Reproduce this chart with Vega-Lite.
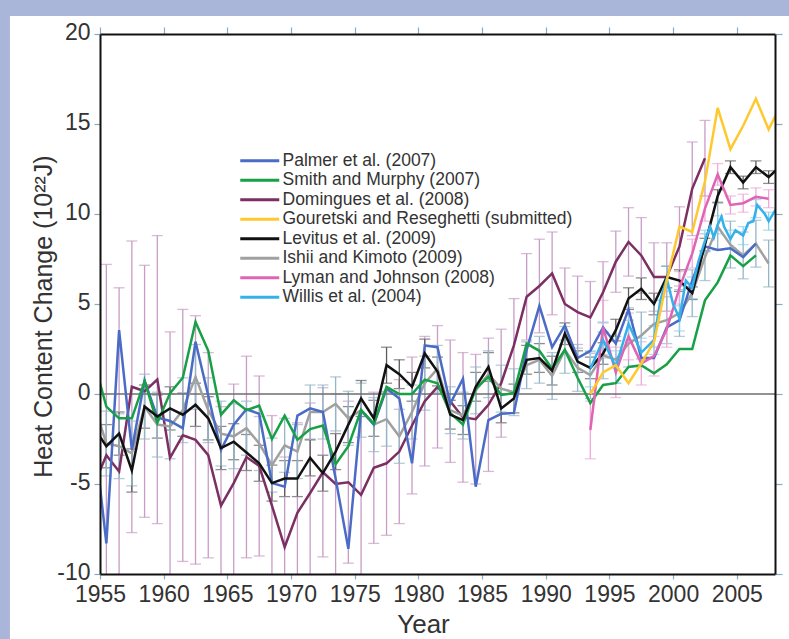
{
  "$schema": "https://vega.github.io/schema/vega-lite/v6.json",
  "width": 675,
  "height": 540,
  "autosize": {"type": "none"},
  "padding": {"left": 100, "top": 34, "right": 14, "bottom": 65},
  "background": "#aab5da",
  "config": {
    "view": {"stroke": null},
    "axis": {"labelFont": "Liberation Sans", "titleFont": "Liberation Sans", "grid": false}
  },
  "datasets": {
    "lines": [
      {"s":"D","t":1954.5,"v":-5.1},{"s":"D","t":1955.5,"v":-3.4},{"s":"D","t":1956.5,"v":-4.3},{"s":"D","t":1957.5,"v":0.4},{"s":"D","t":1958.5,"v":0.15},{"s":"D","t":1959.5,"v":0.8},{"s":"D","t":1960.5,"v":-3.55},{"s":"D","t":1961.5,"v":-2.3},{"s":"D","t":1962.5,"v":-2.55},{"s":"D","t":1963.5,"v":-3.4},{"s":"D","t":1964.5,"v":-6.2},{"s":"D","t":1965.5,"v":-4.95},{"s":"D","t":1966.5,"v":-3.5},{"s":"D","t":1967.5,"v":-4.0},{"s":"D","t":1968.5,"v":-6.2},{"s":"D","t":1969.5,"v":-8.5},{"s":"D","t":1970.5,"v":-6.6},{"s":"D","t":1971.5,"v":-5.5},{"s":"D","t":1972.5,"v":-4.35},{"s":"D","t":1973.5,"v":-5.0},{"s":"D","t":1974.5,"v":-4.9},{"s":"D","t":1975.5,"v":-5.6},{"s":"D","t":1976.5,"v":-4.1},{"s":"D","t":1977.5,"v":-3.85},{"s":"D","t":1978.5,"v":-3.2},{"s":"D","t":1979.5,"v":-1.75},{"s":"D","t":1980.5,"v":-0.4},{"s":"D","t":1981.5,"v":0.4},{"s":"D","t":1982.5,"v":-0.4},{"s":"D","t":1983.5,"v":-1.3},{"s":"D","t":1984.5,"v":-1.4},{"s":"D","t":1985.5,"v":-0.6},{"s":"D","t":1986.5,"v":0.6},{"s":"D","t":1987.5,"v":2.7},{"s":"D","t":1988.5,"v":5.4},{"s":"D","t":1989.5,"v":6.0},{"s":"D","t":1990.5,"v":6.7},{"s":"D","t":1991.5,"v":5.0},{"s":"D","t":1992.5,"v":4.55},{"s":"D","t":1993.5,"v":4.25},{"s":"D","t":1994.5,"v":5.65},{"s":"D","t":1995.5,"v":7.35},{"s":"D","t":1996.5,"v":8.45},{"s":"D","t":1997.5,"v":7.7},{"s":"D","t":1998.5,"v":6.5},{"s":"D","t":1999.5,"v":6.5},{"s":"D","t":2000.5,"v":8.2},{"s":"D","t":2001.5,"v":11.4},{"s":"D","t":2002.5,"v":13.1},
      {"s":"I","t":1954.5,"v":-0.5},{"s":"I","t":1955.5,"v":-2.75},{"s":"I","t":1956.5,"v":-2.9},{"s":"I","t":1957.5,"v":-3.3},{"s":"I","t":1958.5,"v":-0.7},{"s":"I","t":1959.5,"v":-1.7},{"s":"I","t":1960.5,"v":-1.8},{"s":"I","t":1961.5,"v":-0.9},{"s":"I","t":1962.5,"v":0.95},{"s":"I","t":1963.5,"v":-0.9},{"s":"I","t":1964.5,"v":-2.2},{"s":"I","t":1965.5,"v":-2.35},{"s":"I","t":1966.5,"v":-1.9},{"s":"I","t":1967.5,"v":-2.75},{"s":"I","t":1968.5,"v":-3.95},{"s":"I","t":1969.5,"v":-2.85},{"s":"I","t":1970.5,"v":-3.2},{"s":"I","t":1971.5,"v":-1.0},{"s":"I","t":1972.5,"v":-1.0},{"s":"I","t":1973.5,"v":-0.55},{"s":"I","t":1974.5,"v":-1.35},{"s":"I","t":1975.5,"v":-0.9},{"s":"I","t":1976.5,"v":-1.7},{"s":"I","t":1977.5,"v":-1.4},{"s":"I","t":1978.5,"v":-2.35},{"s":"I","t":1979.5,"v":-1.0},{"s":"I","t":1980.5,"v":0.6},{"s":"I","t":1981.5,"v":1.4},{"s":"I","t":1982.5,"v":-0.9},{"s":"I","t":1983.5,"v":-1.2},{"s":"I","t":1984.5,"v":0.2},{"s":"I","t":1985.5,"v":1.1},{"s":"I","t":1986.5,"v":0.3},{"s":"I","t":1987.5,"v":0.1},{"s":"I","t":1988.5,"v":1.6},{"s":"I","t":1989.5,"v":1.9},{"s":"I","t":1990.5,"v":1.0},{"s":"I","t":1991.5,"v":2.45},{"s":"I","t":1992.5,"v":1.45},{"s":"I","t":1993.5,"v":1.05},{"s":"I","t":1994.5,"v":2.15},{"s":"I","t":1995.5,"v":1.9},{"s":"I","t":1996.5,"v":2.8},{"s":"I","t":1997.5,"v":3.25},{"s":"I","t":1998.5,"v":3.9},{"s":"I","t":1999.5,"v":4.1},{"s":"I","t":2000.5,"v":4.5},{"s":"I","t":2001.5,"v":5.6},{"s":"I","t":2002.5,"v":7.6},{"s":"I","t":2003.5,"v":9.3},{"s":"I","t":2004.5,"v":8.3},{"s":"I","t":2005.5,"v":7.7},{"s":"I","t":2006.5,"v":8.35},{"s":"I","t":2007.5,"v":7.25},
      {"s":"P","t":1954.5,"v":-2.0},{"s":"P","t":1955.5,"v":-8.3},{"s":"P","t":1956.5,"v":3.55},{"s":"P","t":1957.5,"v":-3.1},{"s":"P","t":1958.5,"v":0.75},{"s":"P","t":1959.5,"v":-1.3},{"s":"P","t":1960.5,"v":-1.5},{"s":"P","t":1961.5,"v":-1.9},{"s":"P","t":1962.5,"v":2.9},{"s":"P","t":1963.5,"v":-0.1},{"s":"P","t":1964.5,"v":-3.1},{"s":"P","t":1965.5,"v":-1.7},{"s":"P","t":1966.5,"v":-0.85},{"s":"P","t":1967.5,"v":-1.1},{"s":"P","t":1968.5,"v":-4.95},{"s":"P","t":1969.5,"v":-5.15},{"s":"P","t":1970.5,"v":-1.2},{"s":"P","t":1971.5,"v":-0.8},{"s":"P","t":1972.5,"v":-1.0},{"s":"P","t":1973.5,"v":-4.7},{"s":"P","t":1974.5,"v":-8.6},{"s":"P","t":1975.5,"v":-0.9},{"s":"P","t":1976.5,"v":-1.7},{"s":"P","t":1977.5,"v":0.3},{"s":"P","t":1978.5,"v":-0.25},{"s":"P","t":1979.5,"v":-3.85},{"s":"P","t":1980.5,"v":2.7},{"s":"P","t":1981.5,"v":2.6},{"s":"P","t":1982.5,"v":-0.55},{"s":"P","t":1983.5,"v":0.85},{"s":"P","t":1984.5,"v":-5.15},{"s":"P","t":1985.5,"v":-1.45},{"s":"P","t":1986.5,"v":-1.1},{"s":"P","t":1987.5,"v":-1.05},{"s":"P","t":1988.5,"v":2.45},{"s":"P","t":1989.5,"v":4.9},{"s":"P","t":1990.5,"v":2.6},{"s":"P","t":1991.5,"v":3.8},{"s":"P","t":1992.5,"v":2.0},{"s":"P","t":1993.5,"v":2.4},{"s":"P","t":1994.5,"v":3.7},{"s":"P","t":1995.5,"v":2.8},{"s":"P","t":1996.5,"v":4.7},{"s":"P","t":1997.5,"v":2.0},{"s":"P","t":1998.5,"v":2.0},{"s":"P","t":1999.5,"v":3.7},{"s":"P","t":2000.5,"v":4.1},{"s":"P","t":2001.5,"v":6.3},{"s":"P","t":2002.5,"v":8.2},{"s":"P","t":2003.5,"v":8.0},{"s":"P","t":2004.5,"v":8.1},{"s":"P","t":2005.5,"v":7.6},{"s":"P","t":2006.5,"v":8.35},
      {"s":"S","t":1954.5,"v":1.9},{"s":"S","t":1955.5,"v":-0.7},{"s":"S","t":1956.5,"v":-1.35},{"s":"S","t":1957.5,"v":-1.35},{"s":"S","t":1958.5,"v":0.7},{"s":"S","t":1959.5,"v":-1.6},{"s":"S","t":1960.5,"v":0.05},{"s":"S","t":1961.5,"v":0.9},{"s":"S","t":1962.5,"v":4.0},{"s":"S","t":1963.5,"v":2.4},{"s":"S","t":1964.5,"v":-1.15},{"s":"S","t":1965.5,"v":-0.35},{"s":"S","t":1966.5,"v":-0.9},{"s":"S","t":1967.5,"v":-0.65},{"s":"S","t":1968.5,"v":-2.5},{"s":"S","t":1969.5,"v":-1.2},{"s":"S","t":1970.5,"v":-2.55},{"s":"S","t":1971.5,"v":-1.95},{"s":"S","t":1972.5,"v":-1.75},{"s":"S","t":1973.5,"v":-3.9},{"s":"S","t":1974.5,"v":-2.9},{"s":"S","t":1975.5,"v":-0.9},{"s":"S","t":1976.5,"v":-1.65},{"s":"S","t":1977.5,"v":0.4},{"s":"S","t":1978.5,"v":0.0},{"s":"S","t":1979.5,"v":0.0},{"s":"S","t":1980.5,"v":0.8},{"s":"S","t":1981.5,"v":0.6},{"s":"S","t":1982.5,"v":-1.05},{"s":"S","t":1983.5,"v":-1.7},{"s":"S","t":1984.5,"v":0.3},{"s":"S","t":1985.5,"v":0.95},{"s":"S","t":1986.5,"v":-0.05},{"s":"S","t":1987.5,"v":0.05},{"s":"S","t":1988.5,"v":2.8},{"s":"S","t":1989.5,"v":2.4},{"s":"S","t":1990.5,"v":1.4},{"s":"S","t":1991.5,"v":2.45},{"s":"S","t":1992.5,"v":0.9},{"s":"S","t":1993.5,"v":-0.5},{"s":"S","t":1994.5,"v":0.5},{"s":"S","t":1995.5,"v":0.6},{"s":"S","t":1996.5,"v":1.5},{"s":"S","t":1997.5,"v":1.6},{"s":"S","t":1998.5,"v":1.15},{"s":"S","t":1999.5,"v":1.65},{"s":"S","t":2000.5,"v":2.5},{"s":"S","t":2001.5,"v":2.5},{"s":"S","t":2002.5,"v":5.2},{"s":"S","t":2003.5,"v":6.2},{"s":"S","t":2004.5,"v":7.7},{"s":"S","t":2005.5,"v":7.1},{"s":"S","t":2006.5,"v":7.7},
      {"s":"L","t":1954.5,"v":-1.85},{"s":"L","t":1955.5,"v":-2.9},{"s":"L","t":1956.5,"v":-2.2},{"s":"L","t":1957.5,"v":-4.25},{"s":"L","t":1958.5,"v":-0.7},{"s":"L","t":1959.5,"v":-1.25},{"s":"L","t":1960.5,"v":-0.8},{"s":"L","t":1961.5,"v":-1.15},{"s":"L","t":1962.5,"v":-0.6},{"s":"L","t":1963.5,"v":-1.35},{"s":"L","t":1964.5,"v":-3.0},{"s":"L","t":1965.5,"v":-2.65},{"s":"L","t":1966.5,"v":-3.25},{"s":"L","t":1967.5,"v":-3.85},{"s":"L","t":1968.5,"v":-4.95},{"s":"L","t":1969.5,"v":-4.7},{"s":"L","t":1970.5,"v":-4.7},{"s":"L","t":1971.5,"v":-3.55},{"s":"L","t":1972.5,"v":-4.4},{"s":"L","t":1973.5,"v":-3.2},{"s":"L","t":1974.5,"v":-1.7},{"s":"L","t":1975.5,"v":-0.25},{"s":"L","t":1976.5,"v":-1.35},{"s":"L","t":1977.5,"v":1.6},{"s":"L","t":1978.5,"v":1.1},{"s":"L","t":1979.5,"v":0.4},{"s":"L","t":1980.5,"v":2.25},{"s":"L","t":1981.5,"v":1.25},{"s":"L","t":1982.5,"v":-1.15},{"s":"L","t":1983.5,"v":-1.45},{"s":"L","t":1984.5,"v":0.4},{"s":"L","t":1985.5,"v":1.5},{"s":"L","t":1986.5,"v":-0.8},{"s":"L","t":1987.5,"v":-0.25},{"s":"L","t":1988.5,"v":1.9},{"s":"L","t":1989.5,"v":2.0},{"s":"L","t":1990.5,"v":1.3},{"s":"L","t":1991.5,"v":3.35},{"s":"L","t":1992.5,"v":1.8},{"s":"L","t":1993.5,"v":1.45},{"s":"L","t":1994.5,"v":2.25},{"s":"L","t":1995.5,"v":3.55},{"s":"L","t":1996.5,"v":5.3},{"s":"L","t":1997.5,"v":5.85},{"s":"L","t":1998.5,"v":5.0},{"s":"L","t":1999.5,"v":6.5},{"s":"L","t":2000.5,"v":6.3},{"s":"L","t":2001.5,"v":5.6},{"s":"L","t":2002.5,"v":8.3},{"s":"L","t":2003.5,"v":11.0},{"s":"L","t":2004.5,"v":12.6},{"s":"L","t":2005.5,"v":11.75},{"s":"L","t":2006.5,"v":12.6},{"s":"L","t":2007.5,"v":12.05},{"s":"L","t":2008.5,"v":12.7},
      {"s":"Ly","t":1993.5,"v":-2.0},{"s":"Ly","t":1994.5,"v":3.7},{"s":"Ly","t":1995.5,"v":1.2},{"s":"Ly","t":1996.5,"v":3.2},{"s":"Ly","t":1997.5,"v":1.7},{"s":"Ly","t":1998.5,"v":2.1},{"s":"Ly","t":1999.5,"v":3.6},{"s":"Ly","t":2000.5,"v":5.9},{"s":"Ly","t":2001.5,"v":7.8},{"s":"Ly","t":2002.5,"v":10.3},{"s":"Ly","t":2003.5,"v":12.2},{"s":"Ly","t":2004.5,"v":10.5},{"s":"Ly","t":2005.5,"v":10.6},{"s":"Ly","t":2006.5,"v":10.95},{"s":"Ly","t":2007.5,"v":10.85},
      {"s":"W","t":1993.5,"v":1.4},{"s":"W","t":1994.5,"v":3.0},{"s":"W","t":1995.5,"v":1.5},{"s":"W","t":1996.5,"v":3.9},{"s":"W","t":1997.5,"v":2.3},{"s":"W","t":1998.5,"v":3.0},{"s":"W","t":1999.0,"v":5.2},{"s":"W","t":1999.5,"v":6.4},{"s":"W","t":2000.0,"v":5.0},{"s":"W","t":2000.5,"v":4.2},{"s":"W","t":2001.0,"v":6.3},{"s":"W","t":2001.5,"v":5.9},{"s":"W","t":2002.0,"v":7.4},{"s":"W","t":2002.5,"v":8.5},{"s":"W","t":2002.9,"v":9.3},{"s":"W","t":2003.2,"v":8.7},{"s":"W","t":2003.5,"v":9.4},{"s":"W","t":2003.8,"v":9.85},{"s":"W","t":2004.0,"v":9.3},{"s":"W","t":2004.5,"v":8.6},{"s":"W","t":2004.9,"v":9.1},{"s":"W","t":2005.5,"v":8.8},{"s":"W","t":2005.9,"v":9.5},{"s":"W","t":2006.3,"v":9.6},{"s":"W","t":2006.6,"v":10.5},{"s":"W","t":2007.2,"v":10.0},{"s":"W","t":2007.5,"v":9.6},{"s":"W","t":2008.1,"v":10.3},
      {"s":"G","t":1993.5,"v":0.0},{"s":"G","t":1994.5,"v":1.2},{"s":"G","t":1995.5,"v":1.6},{"s":"G","t":1996.5,"v":0.6},{"s":"G","t":1997.5,"v":1.7},{"s":"G","t":1998.5,"v":2.9},{"s":"G","t":1999.5,"v":6.3},{"s":"G","t":2000.5,"v":9.3},{"s":"G","t":2001.5,"v":9.0},{"s":"G","t":2002.5,"v":11.8},{"s":"G","t":2003.5,"v":15.9},{"s":"G","t":2004.5,"v":13.6},{"s":"G","t":2005.5,"v":14.9},{"s":"G","t":2006.5,"v":16.4},{"s":"G","t":2007.5,"v":14.7},{"s":"G","t":2008.5,"v":16.1}
    ],
    "errs": [
      {"k":"D","t":1955.5,"lo":-14.0,"hi":7.2},{"k":"D","t":1956.5,"lo":-14.5,"hi":5.9},{"k":"D","t":1957.5,"lo":-7.7,"hi":8.5},{"k":"D","t":1958.5,"lo":-6.85,"hi":7.15},{"k":"D","t":1959.5,"lo":-7.2,"hi":8.8},{"k":"D","t":1960.5,"lo":-10.55,"hi":3.45},{"k":"D","t":1961.5,"lo":-9.3,"hi":4.7},{"k":"D","t":1962.5,"lo":-9.45,"hi":4.35},{"k":"D","t":1963.5,"lo":-9.1,"hi":2.3},{"k":"D","t":1964.5,"lo":-11.7,"hi":-0.7},{"k":"D","t":1965.5,"lo":-10.45,"hi":0.55},{"k":"D","t":1966.5,"lo":-9.1,"hi":2.1},{"k":"D","t":1967.5,"lo":-9.0,"hi":1.0},{"k":"D","t":1968.5,"lo":-11.2,"hi":-1.2},{"k":"D","t":1969.5,"lo":-13.5,"hi":-3.5},{"k":"D","t":1970.5,"lo":-11.6,"hi":-1.6},{"k":"D","t":1971.5,"lo":-10.5,"hi":-0.5},{"k":"D","t":1972.5,"lo":-9.05,"hi":0.35},{"k":"D","t":1973.5,"lo":-10.0,"hi":0.0},{"k":"D","t":1974.5,"lo":-9.4,"hi":-0.4},{"k":"D","t":1975.5,"lo":-10.1,"hi":-1.1},{"k":"D","t":1976.5,"lo":-8.3,"hi":0.1},{"k":"D","t":1977.5,"lo":-7.85,"hi":0.15},{"k":"D","t":1978.5,"lo":-7.2,"hi":0.8},{"k":"D","t":1979.5,"lo":-5.55,"hi":2.05},{"k":"D","t":1980.5,"lo":-4.0,"hi":3.2},{"k":"D","t":1981.5,"lo":-3.0,"hi":3.8},{"k":"D","t":1982.5,"lo":-3.8,"hi":3.0},{"k":"D","t":1983.5,"lo":-4.9,"hi":2.3},{"k":"D","t":1984.5,"lo":-5.0,"hi":2.2},{"k":"D","t":1985.5,"lo":-4.3,"hi":3.1},{"k":"D","t":1986.5,"lo":-2.4,"hi":3.6},{"k":"D","t":1987.5,"lo":0.1,"hi":5.3},{"k":"D","t":1988.5,"lo":3.0,"hi":7.8},{"k":"D","t":1989.5,"lo":3.4,"hi":8.6},{"k":"D","t":1990.5,"lo":4.4,"hi":9.0},{"k":"D","t":1991.5,"lo":3.0,"hi":7.0},{"k":"D","t":1992.5,"lo":2.55,"hi":6.55},{"k":"D","t":1993.5,"lo":2.25,"hi":6.25},{"k":"D","t":1994.5,"lo":3.95,"hi":7.35},{"k":"D","t":1995.5,"lo":5.65,"hi":9.05},{"k":"D","t":1996.5,"lo":6.55,"hi":10.35},{"k":"D","t":1997.5,"lo":5.6,"hi":9.8},{"k":"D","t":1998.5,"lo":4.6,"hi":8.4},{"k":"D","t":1999.5,"lo":4.6,"hi":8.4},{"k":"D","t":2000.5,"lo":6.0,"hi":10.4},{"k":"D","t":2001.5,"lo":8.8,"hi":14.0},{"k":"D","t":2002.5,"lo":11.0,"hi":15.2},
      {"k":"L","t":1955.5,"lo":-4.1,"hi":-1.7},{"k":"L","t":1956.5,"lo":-3.4,"hi":-1.0},{"k":"L","t":1957.5,"lo":-5.45,"hi":-3.05},{"k":"L","t":1958.5,"lo":-1.9,"hi":0.5},{"k":"L","t":1959.5,"lo":-2.45,"hi":-0.05},{"k":"L","t":1960.5,"lo":-2.0,"hi":0.4},{"k":"L","t":1961.5,"lo":-2.35,"hi":0.05},{"k":"L","t":1962.5,"lo":-1.8,"hi":0.6},{"k":"L","t":1963.5,"lo":-2.55,"hi":-0.15},{"k":"L","t":1964.5,"lo":-4.2,"hi":-1.8},{"k":"L","t":1965.5,"lo":-3.65,"hi":-1.65},{"k":"L","t":1966.5,"lo":-4.25,"hi":-2.25},{"k":"L","t":1967.5,"lo":-4.85,"hi":-2.85},{"k":"L","t":1968.5,"lo":-5.95,"hi":-3.95},{"k":"L","t":1969.5,"lo":-5.7,"hi":-3.7},{"k":"L","t":1970.5,"lo":-5.7,"hi":-3.7},{"k":"L","t":1971.5,"lo":-4.55,"hi":-2.55},{"k":"L","t":1972.5,"lo":-5.4,"hi":-3.4},{"k":"L","t":1973.5,"lo":-4.2,"hi":-2.2},{"k":"L","t":1974.5,"lo":-2.7,"hi":-0.7},{"k":"L","t":1975.5,"lo":-1.25,"hi":0.75},{"k":"L","t":1976.5,"lo":-2.35,"hi":-0.35},{"k":"L","t":1977.5,"lo":0.6,"hi":2.6},{"k":"L","t":1978.5,"lo":0.3,"hi":1.9},{"k":"L","t":1979.5,"lo":-0.4,"hi":1.2},{"k":"L","t":1980.5,"lo":1.45,"hi":3.05},{"k":"L","t":1981.5,"lo":0.45,"hi":2.05},{"k":"L","t":1982.5,"lo":-1.95,"hi":-0.35},{"k":"L","t":1983.5,"lo":-2.25,"hi":-0.65},{"k":"L","t":1984.5,"lo":-0.4,"hi":1.2},{"k":"L","t":1985.5,"lo":0.7,"hi":2.3},{"k":"L","t":1986.5,"lo":-1.6,"hi":0.0},{"k":"L","t":1987.5,"lo":-1.05,"hi":0.55},{"k":"L","t":1988.5,"lo":1.1,"hi":2.7},{"k":"L","t":1989.5,"lo":1.2,"hi":2.8},{"k":"L","t":1990.5,"lo":0.5,"hi":2.1},{"k":"L","t":1991.5,"lo":2.75,"hi":3.95},{"k":"L","t":1992.5,"lo":1.2,"hi":2.4},{"k":"L","t":1993.5,"lo":0.85,"hi":2.05},{"k":"L","t":1994.5,"lo":1.65,"hi":2.85},{"k":"L","t":1995.5,"lo":2.95,"hi":4.15},{"k":"L","t":1996.5,"lo":4.7,"hi":5.9},{"k":"L","t":1997.5,"lo":5.25,"hi":6.45},{"k":"L","t":1998.5,"lo":4.4,"hi":5.6},{"k":"L","t":1999.5,"lo":5.9,"hi":7.1},{"k":"L","t":2000.5,"lo":5.7,"hi":6.9},{"k":"L","t":2001.5,"lo":5.25,"hi":5.95},{"k":"L","t":2002.5,"lo":7.95,"hi":8.65},{"k":"L","t":2003.5,"lo":10.65,"hi":11.35},{"k":"L","t":2004.5,"lo":12.25,"hi":12.95},{"k":"L","t":2005.5,"lo":11.4,"hi":12.1},{"k":"L","t":2006.5,"lo":12.25,"hi":12.95},{"k":"L","t":2007.5,"lo":11.7,"hi":12.4},
      {"k":"I","t":1955.5,"lo":-4.55,"hi":-0.95},{"k":"I","t":1956.5,"lo":-4.7,"hi":-1.1},{"k":"I","t":1957.5,"lo":-5.1,"hi":-1.5},{"k":"I","t":1958.5,"lo":-2.5,"hi":1.1},{"k":"I","t":1959.5,"lo":-3.5,"hi":0.1},{"k":"I","t":1960.5,"lo":-3.6,"hi":0.0},{"k":"I","t":1961.5,"lo":-2.7,"hi":0.9},{"k":"I","t":1962.5,"lo":-0.85,"hi":2.75},{"k":"I","t":1963.5,"lo":-2.7,"hi":0.9},{"k":"I","t":1964.5,"lo":-4.0,"hi":-0.4},{"k":"I","t":1965.5,"lo":-4.15,"hi":-0.55},{"k":"I","t":1966.5,"lo":-3.4,"hi":-0.4},{"k":"I","t":1967.5,"lo":-4.25,"hi":-1.25},{"k":"I","t":1968.5,"lo":-5.45,"hi":-2.45},{"k":"I","t":1969.5,"lo":-4.35,"hi":-1.35},{"k":"I","t":1970.5,"lo":-4.7,"hi":-1.7},{"k":"I","t":1971.5,"lo":-2.5,"hi":0.5},{"k":"I","t":1972.5,"lo":-2.5,"hi":0.5},{"k":"I","t":1973.5,"lo":-2.05,"hi":0.95},{"k":"I","t":1974.5,"lo":-2.85,"hi":0.15},{"k":"I","t":1975.5,"lo":-2.4,"hi":0.6},{"k":"I","t":1976.5,"lo":-3.2,"hi":-0.2},{"k":"I","t":1977.5,"lo":-2.9,"hi":0.1},{"k":"I","t":1978.5,"lo":-3.85,"hi":-0.85},{"k":"I","t":1979.5,"lo":-2.5,"hi":0.5},{"k":"I","t":1980.5,"lo":-0.9,"hi":2.1},{"k":"I","t":1981.5,"lo":0.1,"hi":2.7},{"k":"I","t":1982.5,"lo":-2.2,"hi":0.4},{"k":"I","t":1983.5,"lo":-2.5,"hi":0.1},{"k":"I","t":1984.5,"lo":-1.1,"hi":1.5},{"k":"I","t":1985.5,"lo":-0.2,"hi":2.4},{"k":"I","t":1986.5,"lo":-1.0,"hi":1.6},{"k":"I","t":1987.5,"lo":-1.2,"hi":1.4},{"k":"I","t":1988.5,"lo":0.3,"hi":2.9},{"k":"I","t":1989.5,"lo":0.6,"hi":3.2},{"k":"I","t":1990.5,"lo":-0.3,"hi":2.3},{"k":"I","t":1991.5,"lo":1.15,"hi":3.75},{"k":"I","t":1992.5,"lo":0.15,"hi":2.75},{"k":"I","t":1993.5,"lo":-0.25,"hi":2.35},{"k":"I","t":1994.5,"lo":0.85,"hi":3.45},{"k":"I","t":1995.5,"lo":0.6,"hi":3.2},{"k":"I","t":1996.5,"lo":1.5,"hi":4.1},{"k":"I","t":1997.5,"lo":1.95,"hi":4.55},{"k":"I","t":1998.5,"lo":2.6,"hi":5.2},{"k":"I","t":1999.5,"lo":2.8,"hi":5.4},{"k":"I","t":2000.5,"lo":3.2,"hi":5.8},{"k":"I","t":2001.5,"lo":4.3,"hi":6.9},{"k":"I","t":2002.5,"lo":6.3,"hi":8.9},{"k":"I","t":2003.5,"lo":8.0,"hi":10.6},{"k":"I","t":2004.5,"lo":7.0,"hi":9.6},{"k":"I","t":2005.5,"lo":6.4,"hi":9.0},{"k":"I","t":2006.5,"lo":7.05,"hi":9.65},{"k":"I","t":2007.5,"lo":5.95,"hi":8.55},
      {"k":"Ly","t":1993.5,"lo":-3.6,"hi":-0.4},{"k":"Ly","t":1994.5,"lo":2.2,"hi":5.2},{"k":"Ly","t":1995.5,"lo":-0.2,"hi":2.6},{"k":"Ly","t":1996.5,"lo":1.9,"hi":4.5},{"k":"Ly","t":1997.5,"lo":0.5,"hi":2.9},{"k":"Ly","t":1998.5,"lo":1.0,"hi":3.2},{"k":"Ly","t":1999.5,"lo":2.6,"hi":4.6},{"k":"Ly","t":2000.5,"lo":5.0,"hi":6.8},{"k":"Ly","t":2001.5,"lo":7.0,"hi":8.6},{"k":"Ly","t":2002.5,"lo":9.6,"hi":11.0},{"k":"Ly","t":2003.5,"lo":11.6,"hi":12.8},{"k":"Ly","t":2004.5,"lo":10.0,"hi":11.0},{"k":"Ly","t":2005.5,"lo":10.1,"hi":11.1},{"k":"Ly","t":2006.5,"lo":10.45,"hi":11.45},{"k":"Ly","t":2007.5,"lo":10.35,"hi":11.35},
      {"k":"W","t":1993.5,"lo":0.4,"hi":2.4},{"k":"W","t":1994.5,"lo":2.0,"hi":4.0},{"k":"W","t":1995.5,"lo":0.6,"hi":2.4},{"k":"W","t":1996.5,"lo":3.0,"hi":4.8},{"k":"W","t":1997.5,"lo":1.5,"hi":3.1},{"k":"W","t":1998.5,"lo":2.2,"hi":3.8},{"k":"W","t":1999.5,"lo":5.7,"hi":7.1},{"k":"W","t":2000.5,"lo":3.5,"hi":4.9},{"k":"W","t":2001.5,"lo":5.3,"hi":6.5},{"k":"W","t":2002.5,"lo":7.9,"hi":9.1},{"k":"W","t":2003.5,"lo":8.9,"hi":9.9},{"k":"W","t":2004.5,"lo":8.1,"hi":9.1},{"k":"W","t":2005.5,"lo":8.3,"hi":9.3},{"k":"W","t":2006.5,"lo":9.8,"hi":10.8},{"k":"W","t":2007.5,"lo":9.1,"hi":10.1}
    ]
  },
  "resolve": {
    "scale": {"color": "independent"},
    "axis": {"x": "independent", "y": "independent"}
  },
  "layer": [
    {
      "data": {"values": [{"panel": "white"}]},
      "mark": {"type": "rect", "fill": "white", "clip": false},
      "encoding": {
        "x": {"datum": 1947.93, "type": "quantitative", "axis": null},
        "x2": {"datum": 2016},
        "y": {"datum": 21.0, "type": "quantitative", "axis": null},
        "y2": {"datum": -16}
      }
    },
    {
      "data": {"name": "errs"},
      "mark": {"type": "errorbar", "clip": true, "thickness": 1.3, "ticks": {"size": 11, "thickness": 1.3}},
      "encoding": {
        "x": {"field": "t", "type": "quantitative", "axis": null},
        "y": {"field": "lo", "type": "quantitative", "axis": null},
        "y2": {"field": "hi"},
        "color": {
          "field": "k", "type": "nominal", "legend": null,
          "scale": {"domain": ["D", "L", "I", "Ly", "W"], "range": ["#c89cc6", "#5c5c5c", "#93b6c6", "#f0a8d8", "#8fd0f2"]}
        }
      }
    },
    {
      "data": {"values": [{"zero": 0}]},
      "mark": {"type": "rule", "color": "#6e6e6e", "strokeWidth": 1.5},
      "encoding": {"y": {"field": "zero", "type": "quantitative", "axis": null}}
    },
    {
      "data": {"name": "lines"},
      "mark": {"type": "line", "strokeWidth": 2.5, "clip": true},
      "encoding": {
        "x": {
          "field": "t", "type": "quantitative",
          "scale": {"domain": [1955, 2008], "nice": false, "zero": false},
          "axis": {
            "orient": "bottom", "values": [1955, 1960, 1965, 1970, 1975, 1980, 1985, 1990, 1995, 2000, 2005],
            "format": "d", "labelFontSize": 23, "labelColor": "#333333", "labelFlush": false, "labelOverlap": false,
            "labelPadding": 4, "tickSize": 5, "tickColor": "#8aa9bf", "tickWidth": 1.2,
            "domain": true, "domainColor": "#111111", "domainWidth": 2,
            "title": "Year", "titleFontSize": 26, "titleFontWeight": "normal", "titleColor": "#333333",
            "titleX": 323, "titleY": 37, "titleBaseline": "top", "zindex": 1
          }
        },
        "y": {
          "field": "v", "type": "quantitative",
          "scale": {"domain": [-10, 20], "nice": false, "zero": false},
          "axis": {
            "orient": "left", "values": [-10, -5, 0, 5, 10, 15, 20],
            "labelExpr": "'' + datum.value",
            "labelFontSize": 23, "labelColor": "#333333", "labelFlush": false, "labelOverlap": false,
            "labelPadding": 4, "labelOffset": -2, "tickSize": 6, "tickColor": "#8aa9bf", "tickWidth": 1.2,
            "domain": true, "domainColor": "#111111", "domainWidth": 2,
            "title": "Heat Content Change (10²²J)", "titleFontSize": 25, "titleFontWeight": "normal", "titleColor": "#333333",
            "titlePadding": 0, "titleY": 282, "zindex": 1
          }
        },
        "color": {
          "field": "s", "type": "nominal",
          "scale": {
            "domain": ["P", "S", "D", "G", "L", "I", "Ly", "W"],
            "range": ["#4a6bc6", "#17a045", "#7b2f62", "#ffc82e", "#111111", "#a0a0a0", "#e064b4", "#35b0ea"]
          },
          "legend": {
            "orient": "none", "legendX": 136.5, "legendY": 118, "title": null, "padding": 0,
            "symbolType": "M-1,0H6.8", "symbolSize": 100, "symbolStrokeWidth": 3, "symbolFillColor": "transparent",
            "labelFontSize": 17.5, "labelFont": "Liberation Sans", "labelColor": "#333333", "labelOffset": 28.5,
            "labelLimit": 500, "rowPadding": 0.5,
            "labelExpr": "datum.label == 'P' ? 'Palmer et al. (2007)' : datum.label == 'S' ? 'Smith and Murphy (2007)' : datum.label == 'D' ? 'Domingues et al. (2008)' : datum.label == 'G' ? 'Gouretski and Reseghetti (submitted)' : datum.label == 'L' ? 'Levitus et al. (2009)' : datum.label == 'I' ? 'Ishii and Kimoto (2009)' : datum.label == 'Ly' ? 'Lyman and Johnson (2008)' : 'Willis et al. (2004)'"
          }
        }
      }
    },
    {
      "data": {"name": "lines"},
      "mark": {"type": "point", "opacity": 0},
      "encoding": {
        "x": {
          "field": "t", "type": "quantitative",
          "axis": {
            "orient": "top", "values": [1955, 1960, 1965, 1970, 1975, 1980, 1985, 1990, 1995, 2000, 2005],
            "labels": false, "tickSize": 7, "tickColor": "#8aa9bf", "tickWidth": 1.2,
            "domain": true, "domainColor": "#111111", "domainWidth": 2, "title": null, "zindex": 1
          }
        },
        "y": {
          "field": "v", "type": "quantitative",
          "axis": {
            "orient": "right", "values": [-10, -5, 0, 5, 10, 15, 20],
            "labels": false, "tickSize": 7, "tickColor": "#8aa9bf", "tickWidth": 1.2,
            "domain": true, "domainColor": "#111111", "domainWidth": 2, "title": null, "zindex": 1
          }
        }
      }
    }
  ]
}
